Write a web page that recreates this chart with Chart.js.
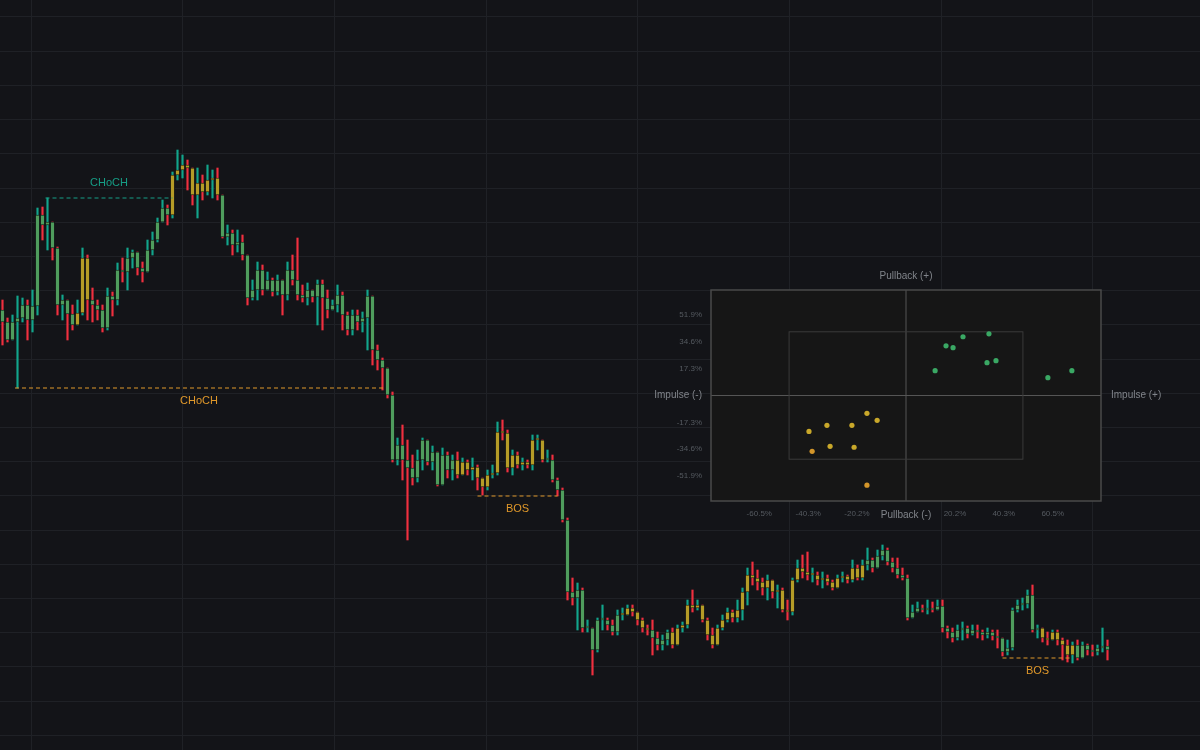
<!DOCTYPE html>
<html>
<head>
<meta charset="utf-8">
<script src="https://cdn.jsdelivr.net/npm/chart.js@4.4.1/dist/chart.umd.min.js"></script>
<style>
  html, body { margin: 0; padding: 0; background: #131418; overflow: hidden; }
  #main { position: absolute; left: 0; top: 0; }
  #inset { position: absolute; left: 650px; top: 260px; }
</style>
</head>
<body>
<canvas id="main" width="1200" height="750"></canvas>
<canvas id="inset" width="520" height="270"></canvas>
<script>
// candle closes / highs / lows (open = previous close)
const closes = [
  428,410,428,432,445,430,444,535,525,528, 502,445,450,436,425,437,492,450,445,440,
  422,454,450,480,478,492,498,482,478,500, 510,528,542,535,575,580,585,582,555,567,
  558,570,572,555,513,517,505,508,495,452, 460,480,460,470,458,470,455,480,470,455,
  452,460,453,466,452,440,445,455,435,420, 435,428,432,454,400,390,382,355,290,305,
  290,282,272,290,310,288,298,265,295,280, 290,275,288,280,283,272,263,275,277,318,
  317,282,295,285,288,285,310,310,290,290, 270,260,230,158,152,160,122,122,100,130,
  130,125,118,135,135,142,138,130,122,120, 112,105,110,118,105,122,125,145,142,145,
  130,115,105,122,130,138,132,140,158,175, 172,168,162,170,158,160,140,138,170,182,
  178,175,175,170,172,168,162,172,174,170, 182,172,185,190,182,194,200,188,182,175,
  172,132,138,142,140,142,140,144,122,118, 112,120,122,116,120,118,115,118,114,112,
  98,102,140,145,146,155,120,122,112,110, 118,110,105,95,105,92,105,100,98,102,
  104,100
];
const highs = [
  450,432,435,454,452,450,460,542,543,552, 512,503,455,450,445,450,502,495,462,450,
  445,462,458,487,492,502,500,498,488,510, 518,532,550,545,578,600,595,590,580,582,
  575,585,580,582,554,525,520,520,515,495, 470,488,485,478,472,475,470,488,495,512,
  465,467,460,470,470,460,450,465,458,438, 440,440,438,460,454,405,392,382,358,312,
  325,310,295,300,312,310,304,298,302,298, 295,298,292,290,292,285,272,280,285,328,
  330,320,300,298,292,290,315,315,310,300, 295,272,262,232,172,167,162,130,122,132,
  145,132,130,140,142,145,145,138,132,125, 130,118,115,120,122,125,128,150,160,150,
  145,132,122,125,135,142,140,150,162,182, 188,180,172,175,170,165,162,150,172,190,
  195,198,182,178,178,175,170,175,178,175, 190,185,190,202,192,200,205,202,192,192,
  182,175,145,148,145,150,148,150,150,124, 122,125,128,124,125,125,120,122,120,120,
  110,110,142,150,152,160,165,125,120,118, 120,120,112,110,108,110,108,106,105,105,
  122,110
];
const lows = [
  405,408,412,362,428,410,418,435,510,500, 490,435,430,410,420,428,435,430,428,430,
  418,420,434,445,468,460,482,475,468,478, 495,508,528,525,532,570,572,560,545,532,
  550,555,552,550,512,505,495,498,490,445, 450,450,455,460,454,455,435,450,465,450,
  448,445,448,425,420,432,440,438,420,415, 415,420,418,400,385,380,360,352,288,285,
  270,210,265,268,280,285,280,264,265,272, 270,272,280,275,270,260,255,260,272,275,
  310,278,275,282,280,282,280,300,288,288, 268,254,228,150,145,120,118,118,75,98,
  120,120,115,115,130,135,134,125,118,115, 95,100,100,105,102,110,118,122,138,140,
  128,110,102,110,120,128,128,128,130,145, 165,160,155,150,152,142,138,130,135,168,
  172,170,168,165,162,165,160,162,168,167, 168,170,170,180,178,185,190,185,178,172,
  170,130,132,138,138,136,138,140,118,112, 108,110,110,112,115,112,110,112,110,102,
  94,95,100,138,140,142,118,112,108,105, 110,105,90,88,87,90,95,95,94,95,
  98,90
];
// candle index ranges drawn with the pullback (yellow) body colour
const pullbackRanges = [[15,17],[34,43],[91,108],[124,129],[134,172],[208,214]];

// structure levels: [label, price, fromIndex, toIndex, colour, labelOffset]
const structures = [
  ["CHoCH", 552, 8.6, 34, "#169e86", 15],
  ["CHoCH", 362, 2.5, 76.1, "#e0982a", -13],
  ["BOS", 254, 95, 111, "#e0982a", -13],
  ["BOS", 92, 200, 214, "#e0982a", -13]
];

// inset scatter
const bullPoints = [[12.0,16.0],[16.5,32.0],[19.4,30.8],[23.5,37.8],[34.2,39.7],[33.4,21.1],[37.1,22.4],[58.5,11.5],[68.4,16.0]];
const bearPoints = [[-40.0,-23.1],[-32.6,-19.2],[-22.3,-19.2],[-16.1,-11.5],[-11.9,-16.0],[-31.3,-32.7],[-21.4,-33.3]];
const deepPoints = [[-38.7,-35.9],[-16.1,-57.7]];
const insetXTicks = [-60.5,-40.3,-20.2,20.2,40.3,60.5];
const insetYTicks = [51.9,34.6,17.3,-17.3,-34.6,-51.9];
const innerBox = { x: 48.2, y: 41.0 };

const TEAL = "#12a58c", RED = "#f0303f", GREEN = "#4f9d5d", YELLOW = "#b59c27";

const opens = closes.map((c, i) => (i === 0 ? 440 : closes[i - 1]));
const isPullback = (i) => pullbackRanges.some(([a, b]) => i >= a && i <= b);

const wickData = closes.map((c, i) => ({ x: i, y: [Math.min(lows[i], opens[i], c), Math.max(highs[i], opens[i], c)] }));
const bodyData = closes.map((c, i) => ({ x: i, y: [opens[i], c] }));
const wickColors = closes.map((c, i) => (c >= opens[i] ? TEAL : RED));
const bodyColors = closes.map((c, i) => (isPullback(i) ? YELLOW : GREEN));

const lineSets = structures.map((s) => ({
  type: "line",
  data: [{ x: s[2], y: s[1] }, { x: s[3], y: s[1] }],
  borderColor: s[4],
  borderWidth: 1,
  borderDash: [4, 3],
  pointRadius: 0,
}));

const structureLabels = {
  id: "structureLabels",
  afterDatasetsDraw(chart) {
    const { ctx, scales } = chart;
    ctx.save();
    ctx.font = "11px 'Liberation Sans', Arial, sans-serif";
    ctx.textAlign = "center";
    ctx.textBaseline = "middle";
    structures.forEach((s) => {
      ctx.fillStyle = s[4];
      const x = scales.x.getPixelForValue((s[2] + s[3]) / 2);
      const y = scales.y.getPixelForValue(s[1]) - s[5];
      ctx.fillText(s[0], x, y);
    });
    ctx.restore();
  },
};

new Chart(document.getElementById("main"), {
  type: "bar",
  data: {
    datasets: [
      { data: wickData, backgroundColor: wickColors, barThickness: 1.5, grouped: false, order: 2 },
      { data: bodyData, backgroundColor: bodyColors, borderColor: "#0d0e11", borderWidth: 0.8, borderSkipped: false, barThickness: 4.2, minBarLength: 2, grouped: false, order: 1 },
      ...lineSets,
    ],
  },
  options: {
    responsive: false,
    animation: false,
    layout: { padding: 0 },
    plugins: { legend: { display: false }, tooltip: { enabled: false } },
    scales: {
      x: {
        type: "linear", min: -0.5, max: 239.5, offset: false,
        afterBuildTicks: (axis) => { axis.ticks = [0, 1, 2, 3, 4, 5, 6, 7].map((k) => ({ value: 5.7 + 30.34 * k })); },
        ticks: { display: false },
        grid: { color: "#1f2126", drawTicks: false, offset: false },
        border: { display: false },
      },
      y: {
        min: 0, max: 750,
        afterBuildTicks: (axis) => { axis.ticks = Array.from({ length: 22 }, (_, k) => ({ value: 733 - 34.2 * k })); },
        ticks: { display: false },
        grid: { color: "#1f2126", drawTicks: false },
        border: { display: false },
      },
    },
  },
  plugins: [structureLabels],
});

const insetFrame = {
  id: "insetFrame",
  beforeDatasetsDraw(chart) {
    const { ctx, chartArea: a, scales } = chart;
    ctx.save();
    ctx.fillStyle = "#161616";
    ctx.fillRect(a.left, a.top, a.width, a.height);
    ctx.strokeStyle = "#555555";
    ctx.lineWidth = 1;
    const cx = scales.x.getPixelForValue(0), cy = scales.y.getPixelForValue(0);
    ctx.beginPath();
    ctx.moveTo(cx, a.top); ctx.lineTo(cx, a.bottom);
    ctx.moveTo(a.left, cy); ctx.lineTo(a.right, cy);
    ctx.stroke();
    ctx.strokeStyle = "#3a3a3a";
    const bx1 = scales.x.getPixelForValue(-innerBox.x), bx2 = scales.x.getPixelForValue(innerBox.x);
    const by1 = scales.y.getPixelForValue(innerBox.y), by2 = scales.y.getPixelForValue(-innerBox.y);
    ctx.strokeRect(bx1, by1, bx2 - bx1, by2 - by1);
    ctx.restore();
  },
  afterDatasetsDraw(chart) {
    const { ctx, chartArea: a, scales } = chart;
    ctx.save();
    ctx.strokeStyle = "#4a4a4a";
    ctx.lineWidth = 1.5;
    ctx.strokeRect(a.left, a.top, a.width, a.height);
    ctx.font = "8px 'Liberation Sans', Arial, sans-serif";
    ctx.fillStyle = "#555a60";
    ctx.textBaseline = "middle";
    ctx.textAlign = "right";
    insetYTicks.forEach((v) => ctx.fillText(v.toFixed(1) + "%", a.left - 9, scales.y.getPixelForValue(v)));
    ctx.textAlign = "center";
    insetXTicks.forEach((v) => ctx.fillText(v.toFixed(1) + "%", scales.x.getPixelForValue(v), a.bottom + 13));
    ctx.font = "10px 'Liberation Sans', Arial, sans-serif";
    ctx.fillStyle = "#80848a";
    const cx = scales.x.getPixelForValue(0), cy = scales.y.getPixelForValue(0);
    ctx.fillText("Pullback (+)", cx, a.top - 14);
    ctx.fillText("Pullback (-)", cx, a.bottom + 14);
    ctx.textAlign = "right";
    ctx.fillText("Impulse (-)", a.left - 9, cy);
    ctx.textAlign = "left";
    ctx.fillText("Impulse (+)", a.right + 10, cy);
    ctx.restore();
  },
};

const toXY = (arr) => arr.map(([x, y]) => ({ x, y }));
new Chart(document.getElementById("inset"), {
  type: "scatter",
  data: {
    datasets: [
      { data: toXY(bullPoints), backgroundColor: "#3aa864", pointRadius: 2.6, borderWidth: 0 },
      { data: toXY(bearPoints), backgroundColor: "#c9a82a", pointRadius: 2.6, borderWidth: 0 },
      { data: toXY(deepPoints), backgroundColor: "#d4962a", pointRadius: 2.6, borderWidth: 0 },
    ],
  },
  options: {
    responsive: false,
    animation: false,
    layout: { padding: { left: 61, right: 69, top: 30, bottom: 29 } },
    plugins: { legend: { display: false }, tooltip: { enabled: false } },
    scales: {
      x: { min: -80.4, max: 80.4, display: false },
      y: { min: -67.9, max: 67.9, display: false },
    },
  },
  plugins: [insetFrame],
});
</script>
</body>
</html>
